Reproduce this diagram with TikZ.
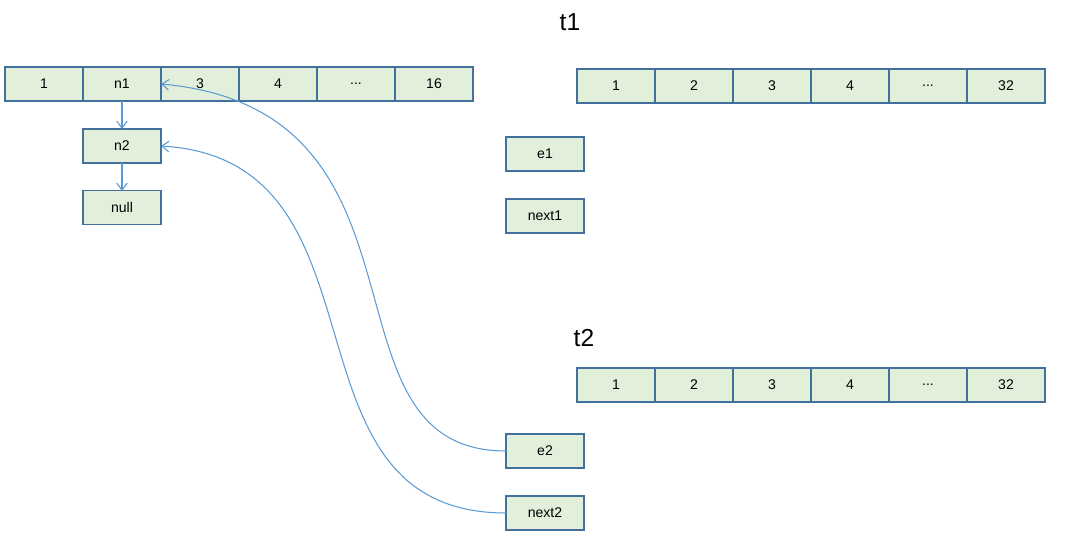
\documentclass[tikz,border=0pt]{standalone}
\usepackage{fontspec}
\setmainfont{Liberation Sans}
\usetikzlibrary{arrows.meta,positioning}
\definecolor{cellFill}{HTML}{E2EFDA}
\definecolor{cellEdge}{HTML}{41719C}
\definecolor{linkBlue}{HTML}{5B9BD5}
\newcommand{\cdd}{...}
\tikzset{
  % table cell / entry box
  cell/.style={rectangle,draw=cellEdge,fill=cellFill,line width=0.6pt,
    minimum width=1.56cm,minimum height=0.68cm,inner sep=0pt,outer sep=0pt,
    font=\fontsize{8}{9}\selectfont,text=black},
  % thread label
  tlbl/.style={font=\fontsize{14}{16}\selectfont,text=black},
  % links
  arr/.style={-{Straight Barb[length=4pt,width=6pt]},color=linkBlue,line width=0.6pt},
}

\begin{document}
\begin{tikzpicture}[x=0.02cm,y=-0.02cm]
  \useasboundingbox (0,0) rectangle (1069,553);

  % shared table (16)
  \foreach \i/\t in {1/1,2/n1,3/3,4/4,5/\cdd,6/16} {
    \node[cell] (m\i) at ({44+78*(\i-1)},84) {\t};
  }
  \node[cell,below=0.56cm of m2] (n2) {n2};
  \node[cell,below=0.56cm of n2] (nl) {null};
  \draw[arr] (m2) -- (n2);
  \draw[arr] (n2) -- (nl);

  % thread t1
  \node[tlbl] (t1) at (570,22) {t1};
  \foreach \i/\t in {1/1,2/2,3/3,4/4,5/\cdd,6/32} {
    \node[cell] (a\i) at ({616+78*(\i-1)},86) {\t};
  }
  \node[cell] (e1) at (545,154) {e1};
  \node[cell] (nx1) at (545,216) {next1};

  % thread t2
  \node[tlbl] (t2) at (584,338) {t2};
  \foreach \i/\t in {1/1,2/2,3/3,4/4,5/\cdd,6/32} {
    \node[cell] (b\i) at ({616+78*(\i-1)},385) {\t};
  }
  \node[cell] (e2) at (545,451) {e2};
  \node[cell] (nx2) at (545,513) {next2};

  % t2 links back into the table
  \draw[arr] (e2.west) .. controls +(-196,0) and +(289,26) .. (m2.east);
  \draw[arr] (nx2.west) .. controls +(-236,0) and +(239,14) .. (n2.east);
\end{tikzpicture}
\end{document}
